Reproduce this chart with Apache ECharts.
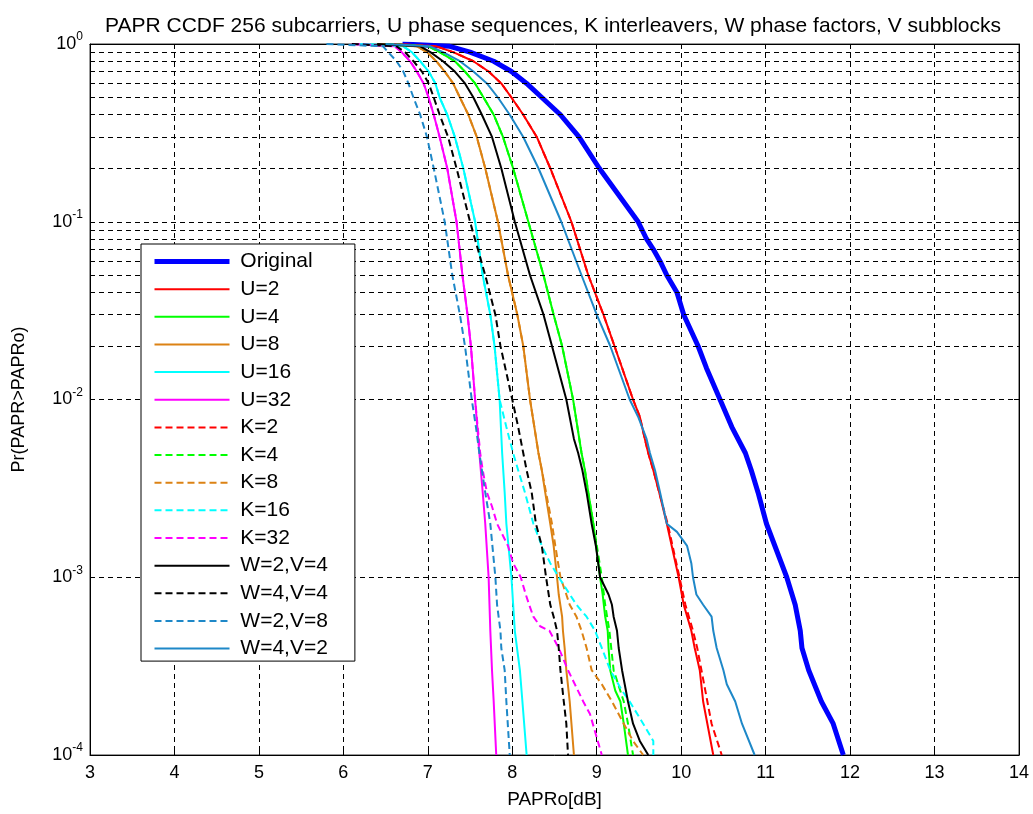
<!DOCTYPE html>
<html>
<head>
<meta charset="utf-8">
<title>PAPR CCDF</title>
<script src="https://cdn.jsdelivr.net/npm/echarts@6/dist/echarts.min.js"></script>
<style>
  html, body { margin: 0; padding: 0; background: #fff; }
  #chart { width: 1033px; height: 814px; }
</style>
</head>
<body>
<div id="chart"></div>
<script>
// [PAPRo (dB), Pr(PAPR > PAPRo)]
const original = [[6.7,1],[7.26,0.97],[7.50,0.9],[7.78,0.8],[7.99,0.7],[8.17,0.6],[8.35,0.5],[8.57,0.4],[8.79,0.3],[9.03,0.2],[9.49,0.1],[9.59,0.08],[9.67,0.07],[9.75,0.06],[9.83,0.05],[9.95,0.04],[10.03,0.03],[10.20,0.02],[10.30,0.015],[10.46,0.01],[10.60,0.007],[10.76,0.005],[10.83,0.004],[10.91,0.003],[11.01,0.002],[11.25,0.001],[11.35,7e-4],[11.41,5e-4],[11.43,4e-4],[11.51,3e-4],[11.66,2e-4],[11.80,1.5e-4],[11.92,1e-4]];
const u2 = [[6.6,1],[7.10,0.97],[7.30,0.9],[7.54,0.8],[7.72,0.7],[7.87,0.6],[7.99,0.5],[8.13,0.4],[8.29,0.3],[8.45,0.2],[8.70,0.1],[8.90,0.05],[9.08,0.03],[9.21,0.02],[9.43,0.01],[9.51,0.008],[9.57,0.006],[9.61,0.005],[9.67,0.004],[9.74,0.003],[9.83,0.002],[9.97,0.001],[10.03,7e-4],[10.12,5e-4],[10.16,4e-4],[10.22,3e-4],[10.26,2e-4],[10.38,1e-4]];
const u4 = [[6.5,1],[7.01,0.97],[7.14,0.9],[7.32,0.8],[7.44,0.7],[7.56,0.6],[7.66,0.5],[7.78,0.4],[7.89,0.3],[8.01,0.2],[8.19,0.1],[8.37,0.05],[8.49,0.03],[8.59,0.02],[8.72,0.01],[8.82,0.005],[8.86,0.004],[8.90,0.003],[8.96,0.002],[9.04,0.001],[9.07,8e-4],[9.10,6e-4],[9.13,5e-4],[9.14,4e-4],[9.16,3e-4],[9.22,2.3e-4],[9.28,2e-4],[9.32,1.5e-4],[9.37,1e-4]];
const u8 = [[6.4,1],[6.87,0.97],[6.99,0.9],[7.10,0.8],[7.20,0.7],[7.30,0.6],[7.38,0.5],[7.48,0.4],[7.58,0.3],[7.68,0.2],[7.83,0.1],[7.95,0.05],[8.06,0.03],[8.13,0.02],[8.21,0.01],[8.31,0.005],[8.35,0.004],[8.39,0.003],[8.45,0.002],[8.49,0.0015],[8.53,0.001],[8.55,8e-4],[8.59,6e-4],[8.60,5e-4],[8.62,4e-4],[8.64,3e-4],[8.68,2e-4],[8.73,1e-4]];
const u16 = [[6.2,1],[6.71,0.97],[6.81,0.9],[6.91,0.8],[7.01,0.7],[7.09,0.6],[7.14,0.5],[7.23,0.4],[7.32,0.3],[7.42,0.2],[7.56,0.1],[7.65,0.05],[7.74,0.03],[7.79,0.02],[7.85,0.01],[7.88,0.005],[7.91,0.003],[7.93,0.002],[7.99,0.001],[8.03,5e-4],[8.09,3e-4],[8.12,2e-4],[8.17,1e-4]];
const u32 = [[6.1,1],[6.61,0.97],[6.69,0.9],[6.79,0.8],[6.87,0.7],[6.95,0.6],[7.01,0.5],[7.07,0.4],[7.14,0.3],[7.23,0.2],[7.34,0.1],[7.41,0.05],[7.47,0.03],[7.51,0.02],[7.56,0.01],[7.61,0.005],[7.65,0.003],[7.68,0.002],[7.72,0.001],[7.74,5e-4],[7.76,3e-4],[7.78,2e-4],[7.81,1e-4]];
const k2 = [[6.6,1],[7.10,0.97],[7.30,0.9],[7.54,0.8],[7.72,0.7],[7.87,0.6],[7.99,0.5],[8.13,0.4],[8.29,0.3],[8.45,0.2],[8.70,0.1],[8.90,0.05],[9.08,0.03],[9.21,0.02],[9.43,0.01],[9.51,0.008],[9.57,0.006],[9.61,0.005],[9.67,0.004],[9.74,0.003],[9.84,0.002],[9.98,0.001],[10.05,7e-4],[10.14,5e-4],[10.19,4e-4],[10.24,3e-4],[10.31,2e-4],[10.36,1.5e-4],[10.48,1e-4]];
const k4 = [[6.5,1],[7.01,0.97],[7.14,0.9],[7.32,0.8],[7.44,0.7],[7.56,0.6],[7.66,0.5],[7.78,0.4],[7.89,0.3],[8.01,0.2],[8.19,0.1],[8.37,0.05],[8.49,0.03],[8.59,0.02],[8.72,0.01],[8.82,0.005],[8.86,0.004],[8.90,0.003],[8.96,0.002],[9.06,0.001],[9.10,7e-4],[9.15,5e-4],[9.20,3e-4],[9.32,2e-4],[9.37,1.5e-4],[9.43,1e-4]];
const k8 = [[6.4,1],[6.87,0.97],[6.99,0.9],[7.10,0.8],[7.20,0.7],[7.30,0.6],[7.38,0.5],[7.48,0.4],[7.58,0.3],[7.68,0.2],[7.83,0.1],[7.95,0.05],[8.06,0.03],[8.13,0.02],[8.21,0.01],[8.31,0.005],[8.35,0.004],[8.40,0.003],[8.47,0.002],[8.51,0.0015],[8.57,0.001],[8.64,8e-4],[8.68,7e-4],[8.76,6e-4],[8.82,5e-4],[8.88,4e-4],[8.94,3e-4],[9.06,2.5e-4],[9.18,2e-4],[9.32,1.5e-4],[9.43,1.2e-4],[9.55,1e-4]];
const k16 = [[6.2,1],[6.71,0.97],[6.81,0.9],[6.91,0.8],[7.01,0.7],[7.09,0.6],[7.14,0.5],[7.23,0.4],[7.32,0.3],[7.42,0.2],[7.56,0.1],[7.65,0.05],[7.74,0.03],[7.79,0.02],[7.85,0.01],[7.93,0.007],[8.01,0.005],[8.07,0.004],[8.15,0.003],[8.25,0.002],[8.35,0.0015],[8.45,0.0012],[8.55,0.001],[8.76,7e-4],[8.88,6e-4],[8.98,5e-4],[9.06,4e-4],[9.16,3e-4],[9.30,2.3e-4],[9.39,2e-4],[9.55,1.5e-4],[9.67,1.2e-4],[9.67,1e-4]];
const k32 = [[6.1,1],[6.61,0.97],[6.69,0.9],[6.79,0.8],[6.87,0.7],[6.95,0.6],[7.01,0.5],[7.07,0.4],[7.14,0.3],[7.23,0.2],[7.34,0.1],[7.41,0.05],[7.47,0.03],[7.51,0.02],[7.56,0.01],[7.62,0.005],[7.65,0.004],[7.70,0.003],[7.76,0.0025],[7.82,0.002],[7.95,0.0015],[8.01,0.0012],[8.10,0.001],[8.16,8e-4],[8.20,7e-4],[8.25,6e-4],[8.33,5.3e-4],[8.44,5e-4],[8.55,4e-4],[8.66,3e-4],[8.84,2e-4],[8.92,1.7e-4],[9.06,1e-4]];
const w2v4 = [[6.4,1],[6.91,0.97],[7.03,0.9],[7.18,0.8],[7.32,0.7],[7.44,0.6],[7.54,0.5],[7.64,0.4],[7.76,0.3],[7.87,0.2],[8.03,0.1],[8.21,0.05],[8.37,0.03],[8.47,0.02],[8.64,0.01],[8.73,0.006],[8.78,0.005],[8.83,0.004],[8.88,0.003],[8.94,0.002],[8.99,0.0015],[9.04,0.001],[9.14,8e-4],[9.18,7e-4],[9.20,6e-4],[9.24,5e-4],[9.26,4e-4],[9.30,3e-4],[9.37,2e-4],[9.43,1.5e-4],[9.51,1.2e-4],[9.61,1e-4]];
const w4v4 = [[6.1,1],[6.63,0.97],[6.73,0.9],[6.83,0.8],[6.93,0.7],[7.01,0.6],[7.07,0.5],[7.14,0.4],[7.24,0.3],[7.34,0.2],[7.50,0.1],[7.68,0.05],[7.80,0.03],[7.86,0.02],[8.00,0.01],[8.07,0.007],[8.13,0.005],[8.17,0.004],[8.23,0.003],[8.28,0.002],[8.35,0.0015],[8.40,0.001],[8.45,7e-4],[8.49,6e-4],[8.53,5e-4],[8.55,4e-4],[8.57,3e-4],[8.61,2e-4],[8.64,1.5e-4],[8.66,1e-4]];
const w2v8 = [[5.8,1],[6.47,0.97],[6.53,0.9],[6.63,0.8],[6.71,0.7],[6.77,0.6],[6.83,0.5],[6.91,0.4],[6.99,0.3],[7.07,0.2],[7.20,0.1],[7.29,0.05],[7.38,0.03],[7.44,0.02],[7.52,0.01],[7.57,0.007],[7.61,0.005],[7.68,0.003],[7.74,0.002],[7.80,0.001],[7.82,7e-4],[7.86,5e-4],[7.87,4e-4],[7.91,3e-4],[7.93,2e-4],[7.97,1e-4]];
const w4v2 = [[6.5,1],[7.03,0.97],[7.18,0.9],[7.38,0.8],[7.54,0.7],[7.70,0.6],[7.83,0.5],[7.97,0.4],[8.13,0.3],[8.31,0.2],[8.58,0.1],[8.82,0.05],[9.00,0.03],[9.16,0.02],[9.39,0.01],[9.49,0.008],[9.59,0.006],[9.63,0.005],[9.69,0.004],[9.75,0.003],[9.83,0.002],[9.95,0.0018],[10.07,0.0015],[10.12,0.0012],[10.14,0.001],[10.18,8e-4],[10.26,7e-4],[10.36,6e-4],[10.38,5e-4],[10.42,4e-4],[10.50,3e-4],[10.54,2.5e-4],[10.64,2e-4],[10.72,1.5e-4],[10.87,1e-4]];

// minor log grid lines: 2..9 x each decade
const minorSteps = [2, 3, 4, 5, 6, 7, 8, 9];
const decades = [1e-4, 1e-3, 1e-2, 1e-1];

const FONT = "Liberation Sans, Arial, sans-serif";
const DASH = [7, 4];
const GRID_DASH = [5, 4];

const curves = [
  { name: "Original", data: original, color: "#0000ff", width: 5, type: "solid" },
  { name: "U=2", data: u2, color: "#ff0000", width: 2, type: "solid" },
  { name: "U=4", data: u4, color: "#00ff00", width: 2, type: "solid" },
  { name: "U=8", data: u8, color: "#dc8214", width: 2, type: "solid" },
  { name: "U=16", data: u16, color: "#00ffff", width: 2, type: "solid" },
  { name: "U=32", data: u32, color: "#ff00ff", width: 2, type: "solid" },
  { name: "K=2", data: k2, color: "#ff0000", width: 2, type: DASH },
  { name: "K=4", data: k4, color: "#00ff00", width: 2, type: DASH },
  { name: "K=8", data: k8, color: "#dc8214", width: 2, type: DASH },
  { name: "K=16", data: k16, color: "#00ffff", width: 2, type: DASH },
  { name: "K=32", data: k32, color: "#ff00ff", width: 2, type: DASH },
  { name: "W=2,V=4", data: w2v4, color: "#000000", width: 2, type: "solid" },
  { name: "W=4,V=4", data: w4v4, color: "#000000", width: 2, type: DASH },
  { name: "W=2,V=8", data: w2v8, color: "#1e88c8", width: 2, type: DASH },
  { name: "W=4,V=2", data: w4v2, color: "#1e88c8", width: 2, type: "solid" },
];

const minorLines = [];
decades.forEach((d) => minorSteps.forEach((m) => minorLines.push({ yAxis: m * d })));

const axisBase = {
  axisLine: { lineStyle: { color: "#000" } },
  axisTick: { inside: true, length: 5, lineStyle: { color: "#000" } },
};

const chart = echarts.init(document.getElementById("chart"));
chart.setOption({
  animation: false,
  backgroundColor: "#fff",
  title: {
    text: "PAPR CCDF 256 subcarriers, U phase sequences, K interleavers, W phase factors, V subblocks",
    left: 548,
    textAlign: "center",
    top: 11,
    textStyle: { fontFamily: FONT, fontSize: 21, fontWeight: "normal", color: "#000" },
  },
  grid: {
    left: 90, right: 14, top: 44, bottom: 57,
    show: true, borderColor: "#333", borderWidth: 1, backgroundColor: "#fff",
  },
  legend: {
    orient: "vertical",
    left: 141,
    top: 244,
    itemWidth: 75,
    itemHeight: 14,
    itemGap: 6.65,
    padding: [7, 27, 2, 11],
    backgroundColor: "#fff",
    borderColor: "#000",
    borderWidth: 1,
    z: 10,
    itemStyle: { opacity: 0 },
    formatter: (name) => " " + name,
    textStyle: { fontFamily: FONT, fontSize: 21, color: "#000" },
    data: curves.map((c) => ({ name: c.name, lineStyle: { width: c.width } })),
  },
  xAxis: [
    Object.assign({
      type: "value",
      min: 3,
      max: 14,
      interval: 1,
      name: "PAPRo[dB]",
      nameLocation: "middle",
      nameGap: 35,
      nameTextStyle: { fontFamily: FONT, fontSize: 19, color: "#000" },
      axisLabel: { fontFamily: FONT, fontSize: 18, color: "#000", margin: 9 },
      splitLine: { show: true, lineStyle: { color: "#000", type: GRID_DASH, width: 1 } },
    }, axisBase),
    Object.assign({
      type: "value", position: "top", min: 3, max: 14, interval: 1,
      axisLabel: { show: false }, splitLine: { show: false },
    }, axisBase),
  ],
  yAxis: [
    Object.assign({
      type: "log",
      logBase: 10,
      min: 1e-4,
      max: 1,
      name: "Pr(PAPR>PAPRo)",
      nameLocation: "middle",
      nameGap: 62,
      nameTextStyle: { fontFamily: FONT, fontSize: 18, color: "#000" },
      axisLabel: {
        color: "#000",
        margin: 7,
        formatter: (v) => "{b|10}{s|" + Math.round(Math.log10(v)) + "}",
        rich: {
          b: { fontFamily: FONT, fontSize: 18, color: "#000" },
          s: { fontFamily: FONT, fontSize: 12, color: "#000", padding: [0, 0, 14, 0] },
        },
      },
      splitLine: { show: true, lineStyle: { color: "#000", type: GRID_DASH, width: 1 } },
    }, axisBase),
    Object.assign({
      type: "log", logBase: 10, position: "right", min: 1e-4, max: 1,
      axisLabel: { show: false }, splitLine: { show: false },
    }, axisBase),
  ],
  series: [
    {
      name: "minor-grid",
      type: "line",
      data: [],
      silent: true,
      z: 1,
      markLine: {
        silent: true,
        symbol: "none",
        label: { show: false },
        lineStyle: { color: "#000", type: GRID_DASH, width: 1 },
        data: minorLines,
      },
    },
  ].concat(
    curves.map((c) => ({
      name: c.name,
      type: "line",
      data: c.data,
      symbol: "none",
      showSymbol: false,
      z: 3,
      lineStyle: { color: c.color, width: c.width, type: c.type },
      itemStyle: { color: c.color },
    }))
  ),
});
</script>
</body>
</html>
